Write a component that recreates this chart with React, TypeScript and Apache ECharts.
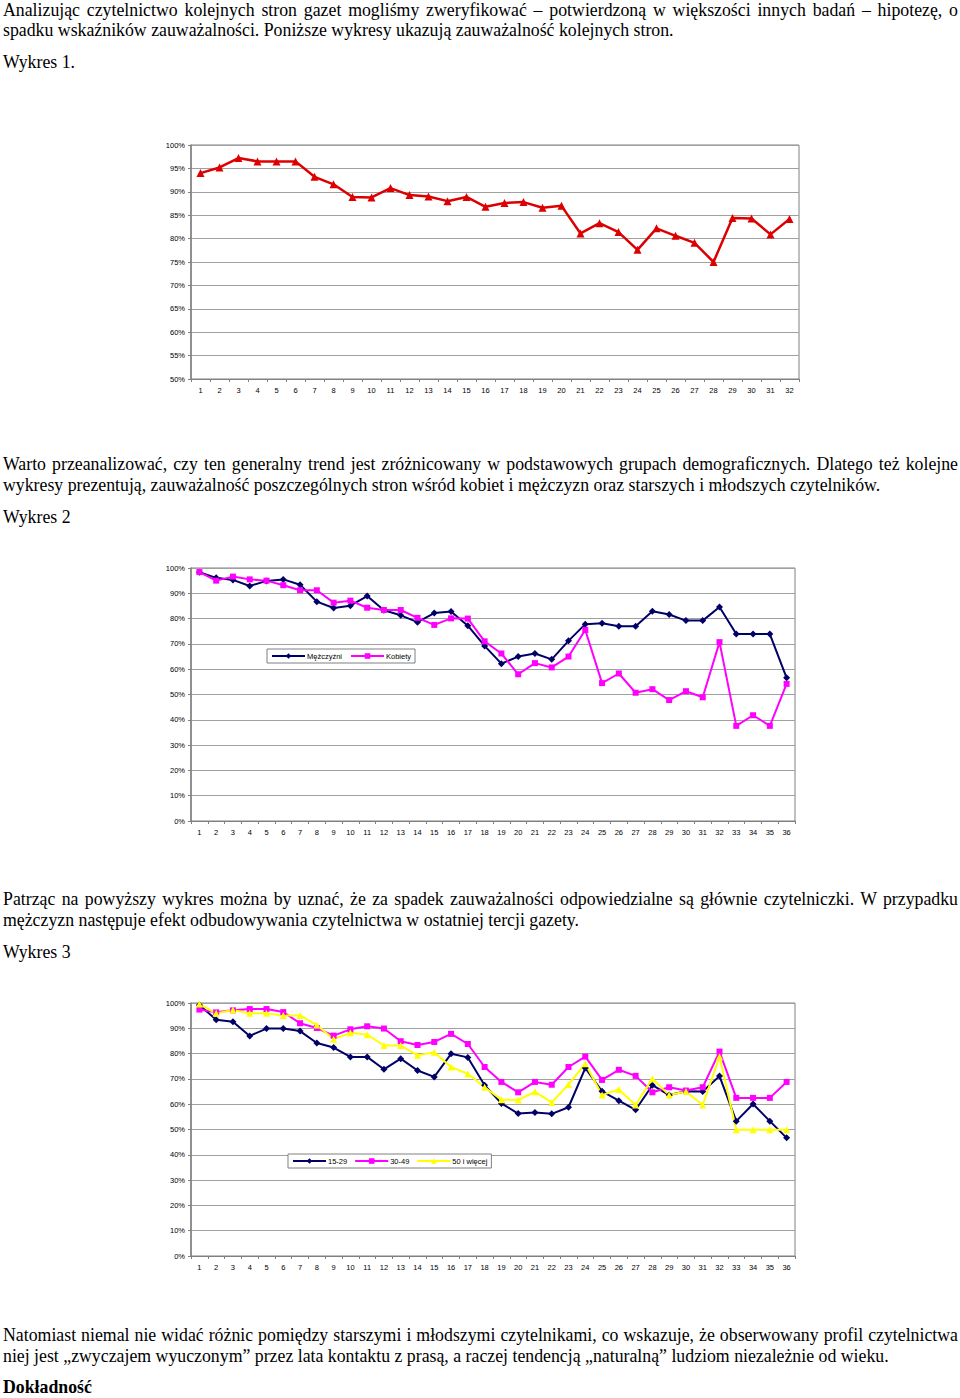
import React, { useEffect, useRef } from "react";
import * as echarts from "echarts";

const pages32 = ["1","2","3","4","5","6","7","8","9","10","11","12","13","14","15","16","17","18","19","20","21","22","23","24","25","26","27","28","29","30","31","32"];
const pages36 = ["1","2","3","4","5","6","7","8","9","10","11","12","13","14","15","16","17","18","19","20","21","22","23","24","25","26","27","28","29","30","31","32","33","34","35","36"];

const ogolem = [94.0,95.2,97.2,96.5,96.5,96.5,93.2,91.6,88.9,88.8,90.8,89.3,89.0,88.0,88.9,86.8,87.6,87.8,86.6,87.0,81.1,83.3,81.4,77.6,82.2,80.6,79.1,75.0,84.4,84.3,80.9,84.2];

const mezczyzni = [98.3,96.1,95.3,92.9,94.9,95.5,93.4,86.7,84.2,85.1,88.9,83.3,81.3,78.6,82.2,82.8,77.2,69.2,62.2,65.0,66.2,63.9,71.2,77.8,78.2,77.0,77.0,82.9,81.6,79.2,79.2,84.6,73.9,73.9,73.9,56.6];
const kobiety = [98.4,95.0,96.6,95.5,95.0,93.2,91.2,91.2,86.3,87.1,84.3,83.4,83.4,80.3,77.5,80.1,80.0,71.0,66.2,58.0,62.4,60.7,65.0,75.5,54.5,58.3,50.7,52.1,47.8,51.3,48.9,70.7,37.6,41.8,37.6,54.2];

const wiek1529 = [99.2,93.4,92.6,87.0,89.9,89.9,88.9,84.2,82.4,78.7,78.7,73.8,78.0,73.3,70.8,79.9,78.5,67.5,60.3,56.3,56.7,56.2,58.8,74.3,65.1,61.4,57.8,67.5,63.6,65.1,65.0,71.1,53.3,60.1,53.3,46.7];
const wiek3049 = [97.4,96.3,97.1,97.6,97.6,96.4,92.0,90.1,87.1,89.6,90.8,89.9,84.9,83.4,84.6,87.8,83.8,74.7,68.8,64.7,68.8,67.7,74.7,78.8,69.6,73.6,71.2,64.7,66.7,65.4,66.7,80.8,62.5,62.5,62.5,68.8];
const wiek50 = [99.6,95.9,97.2,95.9,95.9,95.1,95.1,91.3,85.7,88.2,87.5,83.2,83.2,79.3,80.5,74.7,72.0,66.7,61.8,61.7,64.9,60.7,67.8,76.0,63.6,65.8,59.7,70.1,63.6,65.0,59.7,78.8,49.9,49.9,49.9,49.9];

const AX_FONT = "'Liberation Sans', Arial, sans-serif";

function baseOption(cats: string[], yMin: number, yMax: number, yInt: number, grid: any) {
  return {
    animation: false,
    backgroundColor: "#ffffff",
    grid: { ...grid, show: true, borderColor: "#808080", borderWidth: 1, backgroundColor: "#ffffff" },
    xAxis: {
      type: "category",
      data: cats,
      boundaryGap: true,
      axisLine: { lineStyle: { color: "#808080", width: 1 } },
      axisTick: { show: true, length: 3, interval: 0, lineStyle: { color: "#808080" } },
      axisLabel: { interval: 0, fontSize: 7.5, color: "#000", fontFamily: AX_FONT, margin: 7 },
      splitLine: { show: false },
    },
    yAxis: {
      type: "value",
      min: yMin,
      max: yMax,
      interval: yInt,
      axisLine: { show: true, lineStyle: { color: "#808080", width: 1.5 } },
      axisTick: { show: true, length: 3, lineStyle: { color: "#808080" } },
      axisLabel: { formatter: "{value}%", fontSize: 7.5, color: "#000", fontFamily: AX_FONT, margin: 6 },
      splitLine: { show: true, lineStyle: { color: "#a0a0a0", width: 1 } },
    },
  };
}

function Chart({ option, style }: { option: any; style: React.CSSProperties }) {
  const ref = useRef<HTMLDivElement>(null);
  useEffect(() => {
    if (!ref.current) return;
    const c = echarts.init(ref.current, undefined, { renderer: "svg" });
    c.setOption(option);
    return () => c.dispose();
  }, []);
  return <div ref={ref} style={{ position: "absolute", ...style }} />;
}

const chart1 = {
  ...baseOption(pages32, 50, 100, 5, { left: 41, top: 15, width: 608, height: 234 }),
  series: [
    {
      type: "line",
      data: ogolem,
      symbol: "triangle",
      symbolSize: 8,
      lineStyle: { color: "#DD0000", width: 2.5 },
      itemStyle: { color: "#DD0000" },
    },
  ],
};

const legendBase = {
  show: true,
  orient: "horizontal",
  borderColor: "#808080",
  borderWidth: 1,
  backgroundColor: "#ffffff",
  itemWidth: 33,
  itemHeight: 7,
  padding: [3, 4, 3, 4],
  textStyle: { fontSize: 7.5, color: "#000", fontFamily: AX_FONT, padding: [0, 0, 0, -3] },
};

const chart2 = {
  ...baseOption(pages36, 0, 100, 10, { left: 41, top: 13, width: 604, height: 253 }),
  legend: { ...legendBase, left: 117, top: 94, itemGap: 8, data: ["Mężczyźni", "Kobiety"] },
  series: [
    {
      name: "Mężczyźni",
      type: "line",
      data: mezczyzni,
      symbol: "diamond",
      symbolSize: 7,
      lineStyle: { color: "#000066", width: 2 },
      itemStyle: { color: "#000066" },
    },
    {
      name: "Kobiety",
      type: "line",
      data: kobiety,
      symbol: "rect",
      symbolSize: 6,
      lineStyle: { color: "#FF00FF", width: 2 },
      itemStyle: { color: "#FF00FF" },
    },
  ],
};

const chart3 = {
  ...baseOption(pages36, 0, 100, 10, { left: 41, top: 13, width: 604, height: 253 }),
  legend: { ...legendBase, left: 138, top: 164, itemGap: 7, data: ["15-29", "30-49", "50 i więcej"] },
  series: [
    {
      name: "15-29",
      type: "line",
      data: wiek1529,
      symbol: "diamond",
      symbolSize: 7,
      lineStyle: { color: "#000066", width: 2 },
      itemStyle: { color: "#000066" },
    },
    {
      name: "30-49",
      type: "line",
      data: wiek3049,
      symbol: "rect",
      symbolSize: 6,
      lineStyle: { color: "#FF00FF", width: 2 },
      itemStyle: { color: "#FF00FF" },
    },
    {
      name: "50 i więcej",
      type: "line",
      data: wiek50,
      symbol: "triangle",
      symbolSize: 7,
      lineStyle: { color: "#FFFF00", width: 2 },
      itemStyle: { color: "#FFFF00" },
    },
  ],
};

const FONT_SIZE = 17.8;

function Line({ text, cy, justify, bold }: { text: string; cy: number; justify?: boolean; bold?: boolean }) {
  return (
    <div
      style={{
        position: "absolute",
        left: 3,
        width: 955,
        top: cy - 11,
        height: 22,
        lineHeight: "22px",
        fontSize: FONT_SIZE,
        fontFamily: "'Liberation Serif', 'Times New Roman', serif",
        fontWeight: bold ? "bold" : "normal",
        textAlign: justify ? "justify" : "left",
        textAlignLast: justify ? "justify" : "left",
        whiteSpace: "nowrap",
        color: "#000",
      }}
    >
      {text}
    </div>
  );
}

export default function App() {
  return (
    <div style={{ position: "absolute", left: 0, top: 0, width: 960, height: 1398, background: "#fff", overflow: "hidden" }}>
      <Line cy={10} justify text="Analizując czytelnictwo kolejnych stron gazet mogliśmy zweryfikować – potwierdzoną w większości innych badań – hipotezę, o" />
      <Line cy={30} text="spadku wskaźników zauważalności. Poniższe wykresy ukazują zauważalność kolejnych stron." />
      <Line cy={62} text="Wykres 1." />
      <Chart option={chart1} style={{ left: 150, top: 130, width: 670, height: 280 }} />
      <Line cy={464} justify text="Warto przeanalizować, czy ten generalny trend jest zróżnicowany w podstawowych grupach demograficznych. Dlatego też kolejne" />
      <Line cy={485} text="wykresy prezentują, zauważalność poszczególnych stron wśród kobiet i mężczyzn oraz starszych i młodszych czytelników." />
      <Line cy={517} text="Wykres 2" />
      <Chart option={chart2} style={{ left: 150, top: 555, width: 670, height: 290 }} />
      <Line cy={899} justify text="Patrząc na powyższy wykres można by uznać, że za spadek zauważalności odpowiedzialne są głównie czytelniczki. W przypadku" />
      <Line cy={920} text="mężczyzn następuje efekt odbudowywania czytelnictwa w ostatniej tercji gazety." />
      <Line cy={952} text="Wykres 3" />
      <Chart option={chart3} style={{ left: 150, top: 990, width: 670, height: 290 }} />
      <Line cy={1335} justify text="Natomiast niemal nie widać różnic pomiędzy starszymi i młodszymi czytelnikami, co wskazuje, że obserwowany profil czytelnictwa" />
      <Line cy={1356} text="niej jest „zwyczajem wyuczonym” przez lata kontaktu z prasą, a raczej tendencją „naturalną” ludziom niezależnie od wieku." />
      <Line cy={1387} bold text="Dokładność" />
    </div>
  );
}
